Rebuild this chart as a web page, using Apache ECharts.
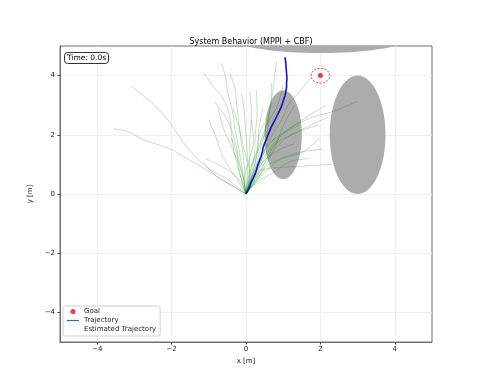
<!DOCTYPE html>
<html>
<head>
  <meta charset="utf-8">
  <title>System Behavior (MPPI + CBF)</title>
  <script src="https://cdn.jsdelivr.net/npm/echarts@6/dist/echarts.min.js"></script>
</head>
<body style="margin:0">
  <div id="main" style="width:480px;height:384px;"></div>
  <script type="text/javascript">
    // tick positions on both axes
    var tickValues = [-4, -2, 0, 2, 4];

    // goal [x, y] and its dashed radius
    var goal = [2, 4];
    var goalRadius = 0.25;

    // obstacles: [cx, cy, rx, ry]
    var obstacles = [
      [1, 2, 0.5, 1.5],
      [3, 2, 0.75, 2],
      [2, 5.3, 2.4, 0.54]
    ];

    // executed trajectory (blue)
    var trajectory = [
      [0, 0], [0.05, 0.12], [0.10, 0.25], [0.13, 0.38], [0.19, 0.53], [0.24, 0.66], [0.28, 0.81],
      [0.31, 0.95], [0.35, 1.09], [0.40, 1.25], [0.44, 1.43], [0.46, 1.57], [0.50, 1.71],
      [0.55, 1.85], [0.59, 1.99], [0.64, 2.13], [0.68, 2.27], [0.76, 2.45], [0.82, 2.61],
      [0.89, 2.78], [0.95, 2.95], [1.01, 3.18], [1.05, 3.33], [1.07, 3.46], [1.09, 3.60],
      [1.09, 3.74], [1.10, 3.90], [1.09, 4.08], [1.08, 4.25], [1.07, 4.42], [1.05, 4.62]
    ];

    // sampled rollouts (green)
    var samples = [
      [[0, 0], [-0.6, 0.45], [-1.24, 0.95], [-1.6, 1.2], [-2.0, 1.5], [-2.72, 1.82], [-3.2, 2.12], [-3.57, 2.2]],
      [[0, 0], [-0.5, 0.5], [-1.0, 0.85], [-1.3, 1.2], [-1.6, 1.6], [-1.85, 2.05], [-2.1, 2.5], [-2.6, 3.15], [-3.06, 3.61]],
      [[0, 0], [-0.15, 0.6], [-0.3, 1.3], [-0.38, 1.9], [-0.45, 2.7], [-0.65, 3.3], [-0.82, 3.55], [-1.16, 4.11]],
      [[0, 0], [-0.1, 0.8], [-0.2, 1.6], [-0.3, 2.2], [-0.35, 2.7], [-0.5, 3.5], [-0.55, 3.95], [-0.66, 4.41]],
      [[0, 0], [-0.15, 0.9], [-0.3, 1.8], [-0.5, 2.5], [-0.86, 3.14]],
      [[0, 0], [-0.05, 1.0], [-0.15, 2.0], [-0.25, 3.0], [-0.3, 3.6], [-0.44, 4.08]],
      [[0, 0], [0.05, 1.0], [0.0, 2.0], [-0.05, 2.8], [-0.12, 3.4]],
      [[0, 0], [0.1, 0.9], [0.1, 1.8], [0.15, 2.7], [0.1, 3.46]],
      [[0, 0], [0.2, 1.0], [0.25, 2.0], [0.3, 2.8], [0.28, 3.51]],
      [[0, 0], [0.25, 0.9], [0.45, 1.8], [0.6, 2.6], [0.7, 3.3], [0.82, 4.47]],
      [[0, 0], [0.3, 0.8], [0.5, 1.5], [0.6, 2.5], [0.68, 3.2], [0.68, 3.74]],
      [[0, 0], [0.1, 0.36], [0.3, 0.9], [0.55, 1.37], [0.8, 1.8], [1.09, 2.16], [1.71, 2.56], [2.34, 2.79], [2.97, 3.12]],
      [[0, 0], [0.2, 0.6], [0.45, 1.3], [0.7, 2.0], [1.0, 2.6], [1.13, 3.0], [1.4, 3.4], [1.76, 3.96]],
      [[0, 0], [0.3, 0.5], [0.59, 0.98], [1.31, 1.37], [2.07, 1.52]],
      [[0, 0], [0.2, 0.45], [0.41, 0.81], [1.3, 0.92], [2.3, 1.0]],
      [[0, 0], [0.25, 0.6], [0.5, 1.2], [0.8, 1.7], [1.3, 2.05], [1.94, 2.33]],
      [[0, 0], [0.2, 0.7], [0.45, 1.4], [0.8, 1.9], [1.44, 2.33]],
      [[0, 0], [0.3, 0.6], [0.6, 1.3], [0.9, 1.9], [1.5, 2.5], [2.16, 3.0]],
      [[0, 0], [0.35, 0.7], [0.7, 1.4], [1.1, 1.9], [1.7, 2.3], [2.2, 2.6]],
      [[0, 0], [0.4, 0.6], [0.9, 1.15], [1.5, 1.4], [2.0, 1.9]],
      [[0, 0], [-0.3, 0.6], [-0.6, 1.2], [-0.8, 1.9], [-1.0, 2.5]],
      [[0, 0], [-0.2, 0.5], [-0.6, 0.9], [-1.1, 1.2]],
      [[0, 0], [-0.1, 0.7], [-0.35, 1.5], [-0.6, 2.2], [-0.75, 2.9]],
      [[0, 0], [0.1, 0.7], [-0.05, 1.5], [-0.2, 2.3], [-0.35, 2.9]],
      [[0, 0], [0.15, 0.6], [0.3, 1.4], [0.35, 2.2], [0.45, 2.9]],
      [[0, 0], [0.4, 0.7], [0.75, 1.5], [1.0, 2.3], [1.3, 3.0]],
      [[0, 0], [-0.05, 0.5], [0.1, 1.2], [0.2, 1.8], [0.15, 2.5]],
      [[0, 0], [0.3, 0.4], [0.7, 0.7], [1.2, 1.1], [1.7, 1.2]],
      [[0, 0], [-0.4, 0.3], [-0.8, 0.6], [-1.16, 1.09]],
      [[0, 0], [0.2, 0.8], [0.35, 1.6], [0.55, 2.3], [0.85, 3.0], [1.0, 3.7]],
      [[0, 0], [0.05, 0.5], [0.2, 1.1], [0.4, 1.7], [0.55, 2.1], [0.8, 2.4]],
      [[0, 0], [0.15, 0.4], [0.35, 0.9], [0.55, 1.2], [0.9, 1.5], [1.3, 1.7]],
      [[0, 0], [-0.1, 0.4], [-0.2, 0.9], [-0.25, 1.4], [-0.4, 1.9]],
      [[0, 0], [0.1, 0.5], [0.15, 1.0], [0.3, 1.5], [0.35, 2.0], [0.5, 2.4]]
    ];

    var font = 'DejaVu Sans';
    var fmt = function (v) { return String(v).replace('-', '\u2212'); };

    function ellipseItem(params, api) {
      var cx = api.value(0), cy = api.value(1), rx = api.value(2), ry = api.value(3);
      var pts = [];
      for (var i = 0; i <= 72; i++) {
        var t = i / 72 * Math.PI * 2;
        pts.push(api.coord([cx + rx * Math.cos(t), Math.min(cy + ry * Math.sin(t), 5)]));
      }
      return { type: 'polygon', shape: { points: pts }, style: { fill: '#acacac' } };
    }

    function goalRingItem(params, api) {
      var cx = api.value(0), cy = api.value(1), r = api.value(2);
      var pts = [];
      for (var i = 0; i <= 72; i++) {
        var t = i / 72 * Math.PI * 2;
        pts.push(api.coord([cx + r * Math.cos(t), cy + r * Math.sin(t)]));
      }
      return { type: 'polyline', shape: { points: pts },
        style: { fill: null, stroke: '#e8262a', lineWidth: 1, lineDash: [2, 1.5] } };
    }

    var series = [{
      type: 'custom',
      renderItem: ellipseItem,
      dimensions: ['cx', 'cy', 'rx', 'ry'],
      encode: { x: 0, y: 1 },
      data: obstacles,
      z: 1,
      silent: true
    }];

    samples.forEach(function (s) {
      series.push({
        type: 'line', data: s, showSymbol: false, smooth: 0.3, silent: true, z: 2,
        lineStyle: { color: 'rgba(0,128,0,0.24)', width: 1 }
      });
    });

    series.push({
      name: 'Trajectory', type: 'line', data: trajectory, showSymbol: false, z: 3,
      lineStyle: { color: '#1010cc', width: 1.6 }, itemStyle: { color: '#1010cc' }
    });
    series.push({
      name: 'Estimated Trajectory', type: 'scatter', data: [], symbolSize: 1,
      itemStyle: { color: '#7fb8e0' }
    });
    series.push({
      type: 'custom', renderItem: goalRingItem, data: [[goal[0], goal[1], goalRadius]],
      encode: { x: 0, y: 1 }, z: 4, silent: true
    });
    series.push({
      name: 'Goal', type: 'scatter', data: [goal], symbolSize: 5, z: 5,
      itemStyle: { color: '#ff0000' }
    });

    var myChart = echarts.init(document.getElementById('main'));
    var option = {
      animation: false,
      backgroundColor: '#ffffff',
      title: [{
        text: 'System Behavior (MPPI + CBF)', left: 246, top: 33, textAlign: 'center',
        textStyle: { fontFamily: font, fontSize: 8, fontWeight: 'normal', color: '#000' }
      }, {
        text: 'Time: 0.0s', left: 64, top: 52, padding: [2, 3, 2, 3],
        borderWidth: 1, borderColor: '#333', borderRadius: 3, backgroundColor: '#fff',
        textStyle: { fontFamily: font, fontSize: 7.5, fontWeight: 'normal', color: '#000' }
      }],
      legend: {
        orient: 'vertical', left: 63, top: 306, padding: [2, 4, 3, 4],
        itemWidth: 12, itemHeight: 5, itemGap: 2,
        borderColor: '#d0d0d0', borderWidth: 1, borderRadius: 2, backgroundColor: '#fff',
        textStyle: { fontFamily: font, fontSize: 7, color: '#222' },
        data: [
          { name: 'Goal', icon: 'circle', itemStyle: { color: '#ff0000' } },
          { name: 'Trajectory', icon: 'path://M0,0 L20,0 L20,2 L0,2 Z',
            itemStyle: { color: '#1f77b4' }, lineStyle: { color: '#1f77b4' } },
          { name: 'Estimated Trajectory', icon: 'path://M0,0 M20,10 M9.5,4.5 L10.5,4.5 L10.5,5.5 L9.5,5.5 Z', itemStyle: { color: '#7fb8e0' } }
        ]
      },
      grid: { left: 60, right: 48, top: 46, bottom: 42, show: true, borderColor: '#6f6f6f', borderWidth: 1 },
      xAxis: {
        type: 'value', min: -5, max: 5, name: 'x [m]', nameLocation: 'middle', nameGap: 12,
        nameTextStyle: { fontFamily: font, fontSize: 7, color: '#222' },
        axisLine: { show: true, onZero: false, lineStyle: { color: '#6f6f6f', width: 1 } },
        axisTick: { show: true, length: 2.5, customValues: tickValues, lineStyle: { color: '#444' } },
        axisLabel: { customValues: tickValues, formatter: fmt, fontFamily: font, fontSize: 7, color: '#222', margin: 4 },
        splitLine: { show: true, lineStyle: { color: '#ececec', width: 0.8 } }
      },
      yAxis: {
        type: 'value', min: -5, max: 5, name: 'y [m]', nameLocation: 'middle', nameGap: 19,
        nameTextStyle: { fontFamily: font, fontSize: 7, color: '#222' },
        axisLine: { show: true, onZero: false, lineStyle: { color: '#6f6f6f', width: 1 } },
        axisTick: { show: true, length: 2.5, customValues: tickValues, lineStyle: { color: '#444' } },
        axisLabel: { customValues: tickValues, formatter: fmt, fontFamily: font, fontSize: 7, color: '#222', margin: 5 },
        splitLine: { show: true, lineStyle: { color: '#ececec', width: 0.8 } }
      },
      series: series
    };
    myChart.setOption(option);
  </script>
</body>
</html>
